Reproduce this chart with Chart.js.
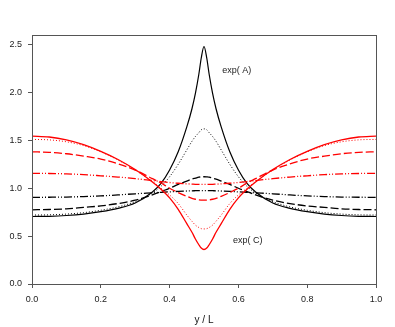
<!DOCTYPE html>
<html>
<head>
<meta charset="utf-8">
<script src="https://cdn.jsdelivr.net/npm/chart.js@4"></script>
<style>
  html, body { margin: 0; padding: 0; background: #fff; }
  #wrap { width: 395px; height: 327px; }
</style>
</head>
<body>
<div id="wrap"><canvas id="myChart" width="395" height="327"></canvas></div>
<script>
// position y / L
var xs = [0, 0.05, 0.1, 0.15, 0.2, 0.25, 0.3, 0.35, 0.375, 0.4, 0.425, 0.45, 0.465, 0.475, 0.485, 0.492, 0.5,
          0.508, 0.515, 0.525, 0.535, 0.55, 0.575, 0.6, 0.625, 0.65, 0.7, 0.75, 0.8, 0.85, 0.9, 0.95, 1.0];

// exp(A) curves (black)
var aSolid = [0.705, 0.707, 0.715, 0.73, 0.755, 0.79, 0.845, 0.96, 1.05, 1.19, 1.38, 1.64, 1.83, 1.99, 2.19, 2.36, 2.48,
              2.36, 2.19, 1.99, 1.83, 1.64, 1.38, 1.19, 1.05, 0.96, 0.845, 0.79, 0.755, 0.73, 0.715, 0.707, 0.705];
var aDotted = [0.72, 0.722, 0.73, 0.745, 0.77, 0.805, 0.86, 0.95, 1.02, 1.12, 1.25, 1.40, 1.49, 1.54, 1.58, 1.61, 1.62,
               1.61, 1.58, 1.54, 1.49, 1.40, 1.25, 1.12, 1.02, 0.95, 0.86, 0.805, 0.77, 0.745, 0.73, 0.722, 0.72];
var aDashed = [0.775, 0.778, 0.785, 0.80, 0.815, 0.84, 0.875, 0.93, 0.965, 1.0, 1.04, 1.075, 1.095, 1.105, 1.115, 1.118, 1.12,
               1.118, 1.115, 1.105, 1.095, 1.075, 1.04, 1.0, 0.965, 0.93, 0.875, 0.84, 0.815, 0.80, 0.785, 0.778, 0.775];
var aDashDot = [0.905, 0.906, 0.908, 0.913, 0.92, 0.93, 0.942, 0.952, 0.957, 0.962, 0.967, 0.971, 0.973, 0.974, 0.975, 0.975, 0.975,
                0.975, 0.975, 0.974, 0.973, 0.971, 0.967, 0.962, 0.957, 0.952, 0.942, 0.93, 0.92, 0.913, 0.908, 0.906, 0.905];

// exp(C) curves (red)
var cSolid = [1.545, 1.535, 1.505, 1.455, 1.385, 1.30, 1.195, 1.065, 0.99, 0.90, 0.78, 0.63, 0.54, 0.47, 0.41, 0.375, 0.36,
              0.375, 0.41, 0.47, 0.54, 0.63, 0.78, 0.90, 0.99, 1.065, 1.195, 1.30, 1.385, 1.455, 1.505, 1.535, 1.545];
var cDotted = [1.51, 1.505, 1.485, 1.445, 1.38, 1.295, 1.19, 1.07, 1.0, 0.93, 0.84, 0.72, 0.655, 0.615, 0.59, 0.578, 0.575,
               0.578, 0.59, 0.615, 0.655, 0.72, 0.84, 0.93, 1.0, 1.07, 1.19, 1.295, 1.38, 1.445, 1.485, 1.505, 1.51];
var cDashed = [1.38, 1.375, 1.36, 1.335, 1.305, 1.255, 1.19, 1.10, 1.055, 1.0, 0.955, 0.915, 0.895, 0.885, 0.878, 0.876, 0.875,
               0.876, 0.878, 0.885, 0.895, 0.915, 0.955, 1.0, 1.055, 1.10, 1.19, 1.255, 1.305, 1.335, 1.36, 1.375, 1.38];
var cDashDot = [1.155, 1.154, 1.15, 1.142, 1.13, 1.117, 1.10, 1.08, 1.07, 1.06, 1.052, 1.046, 1.043, 1.041, 1.04, 1.04, 1.04,
                1.04, 1.04, 1.041, 1.043, 1.046, 1.052, 1.06, 1.07, 1.08, 1.10, 1.117, 1.13, 1.142, 1.15, 1.154, 1.155];

var yTicks = [0, 0.5, 1.0, 1.5, 2.0, 2.5];
var xTicks = [0, 0.2, 0.4, 0.6, 0.8, 1.0];
var notes = [
  { text: 'exp( A)', x: 0.595, y: 2.23 },
  { text: 'exp( C)', x: 0.627, y: 0.45 }
];

var DASH = [8, 3];
var DOT = [1, 2];
var DASHDOTDOT = [8, 2, 1, 2, 1, 2];

function pts(ys) {
  return xs.map(function (x, i) { return { x: x, y: ys[i] }; });
}

function line(ys, color, dash, width) {
  return {
    data: pts(ys),
    borderColor: color,
    borderWidth: width,
    borderDash: dash,
    showLine: true,
    pointRadius: 0,
    fill: false,
    cubicInterpolationMode: 'monotone'
  };
}

// box around the plot + the two curve labels
var framePlugin = {
  id: 'frame',
  afterDraw: function (chart) {
    var ctx = chart.ctx;
    var a = chart.chartArea;
    ctx.save();
    ctx.strokeStyle = '#555';
    ctx.lineWidth = 1;
    ctx.strokeRect(Math.round(a.left) + 0.5, Math.round(a.top) + 0.5,
                   Math.round(a.right - a.left), Math.round(a.bottom - a.top));
    ctx.fillStyle = '#222';
    ctx.font = '9px "Liberation Sans", Arial, sans-serif';
    ctx.textAlign = 'center';
    ctx.textBaseline = 'middle';
    notes.forEach(function (n) {
      ctx.fillText(n.text, chart.scales.x.getPixelForValue(n.x), chart.scales.y.getPixelForValue(n.y));
    });
    ctx.restore();
  }
};

var ctx = document.getElementById('myChart').getContext('2d');
var chart = new Chart(ctx, {
  type: 'scatter',
  data: {
    datasets: [
      line(cDashDot, '#ff0000', DASHDOTDOT, 1.3),
      line(cDashed, '#ff0000', DASH, 1.3),
      line(cDotted, '#ff0000', DOT, 1),
      line(cSolid, '#ff0000', [], 1.3),
      line(aDashDot, '#000000', DASHDOTDOT, 1.3),
      line(aDashed, '#000000', DASH, 1.3),
      line(aDotted, '#000000', DOT, 1),
      line(aSolid, '#000000', [], 1.2)
    ]
  },
  options: {
    responsive: false,
    animation: false,
    layout: { padding: { top: 35, right: 19, left: 0, bottom: 0 } },
    plugins: { legend: { display: false }, tooltip: { enabled: false } },
    scales: {
      x: {
        type: 'linear',
        min: 0,
        max: 1,
        afterFit: function (s) { s.height = 43; },
        afterBuildTicks: function (s) { s.ticks = xTicks.map(function (v) { return { value: v }; }); },
        grid: { drawOnChartArea: false, drawTicks: true, tickLength: 4, color: '#555' },
        border: { display: true, color: '#555' },
        ticks: {
          color: '#222',
          padding: 6,
          maxRotation: 0,
          font: { family: '"Liberation Sans", Arial, sans-serif', size: 9 },
          callback: function (v) { return Number(v).toFixed(1); }
        },
        title: {
          display: true,
          text: 'y / L',
          color: '#111',
          padding: { top: 0, bottom: 1 },
          font: { family: '"Liberation Sans", Arial, sans-serif', size: 10 }
        }
      },
      y: {
        type: 'linear',
        min: 0,
        max: 2.6,
        afterFit: function (s) { s.width = 32; },
        afterBuildTicks: function (s) { s.ticks = yTicks.map(function (v) { return { value: v }; }); },
        grid: { drawOnChartArea: false, drawTicks: true, tickLength: 4, color: '#555' },
        border: { display: true, color: '#555' },
        ticks: {
          color: '#222',
          padding: 6,
          font: { family: '"Liberation Sans", Arial, sans-serif', size: 9 },
          callback: function (v) { return Number(v).toFixed(1); }
        }
      }
    }
  },
  plugins: [framePlugin]
});
</script>
</body>
</html>
